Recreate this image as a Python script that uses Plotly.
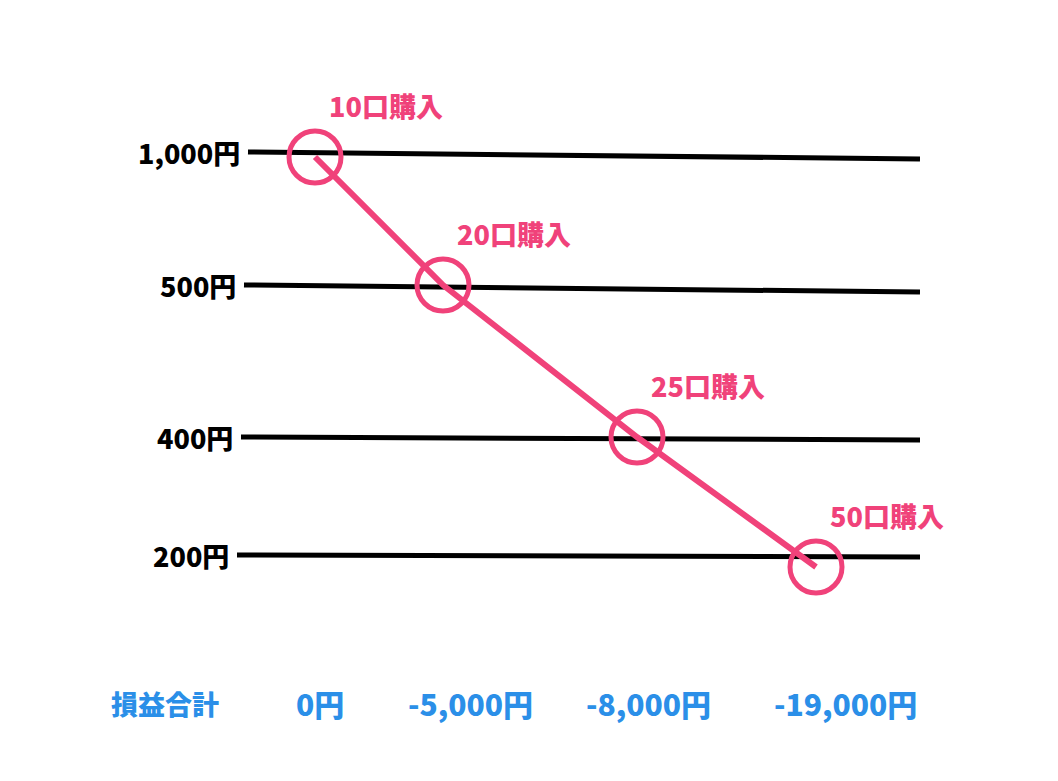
import plotly.graph_objects as go

prices = ["1,000円", "500円", "400円", "200円"]
buy_labels = ["10口購入", "20口購入", "25口購入", "50口購入"]
pnl_labels = ["0円", "-5,000円", "-8,000円", "-19,000円"]
pnl_title = "損益合計"

# layout positions (pixel-like coordinates of the diagram)
row_y_left = [152, 285, 437, 555]
row_y_right = [159, 292, 440, 557]
row_x_left = [248, 244, 241, 237]
line_x_right = 920
pt_x = [315, 443, 637, 816]
pt_y = [157, 285, 437, 567]
pnl_x = [320, 470, 648, 845]

pink = "#F0427A"
blue = "#2B8FE8"
font = "Noto Sans CJK JP"

fig = go.Figure()
for i in range(4):
    fig.add_trace(go.Scatter(x=[row_x_left[i], line_x_right], y=[row_y_left[i], row_y_right[i]],
                             mode="lines", line=dict(color="black", width=5), hoverinfo="skip"))
fig.add_trace(go.Scatter(x=pt_x, y=pt_y, mode="lines", line=dict(color=pink, width=6)))
fig.add_trace(go.Scatter(x=pt_x, y=pt_y, mode="markers",
                         marker=dict(size=52, color="rgba(0,0,0,0)", line=dict(color=pink, width=5))))

for i in range(4):
    fig.add_annotation(x=row_x_left[i] - 6, y=row_y_left[i], text=prices[i],
                       xanchor="right", showarrow=False,
                       font=dict(family=font, size=27, color="black", weight=900))
    fig.add_annotation(x=pt_x[i] + 12, y=pt_y[i] - 52, text=buy_labels[i],
                       xanchor="left", showarrow=False,
                       font=dict(family=font, size=27, color=pink, weight=900))
    fig.add_annotation(x=pnl_x[i], y=703, text=pnl_labels[i],
                       showarrow=False, font=dict(family=font, size=30, color=blue, weight=900))
fig.add_annotation(x=165, y=703, text=pnl_title, showarrow=False,
                   font=dict(family=font, size=27, color=blue, weight=900))

fig.update_layout(width=1058, height=781, margin=dict(l=0, r=0, t=0, b=0),
                  showlegend=False, plot_bgcolor="white", paper_bgcolor="white",
                  xaxis=dict(range=[8, 1066], visible=False),
                  yaxis=dict(range=[789, 8], visible=False))
fig.write_html("out.html")
